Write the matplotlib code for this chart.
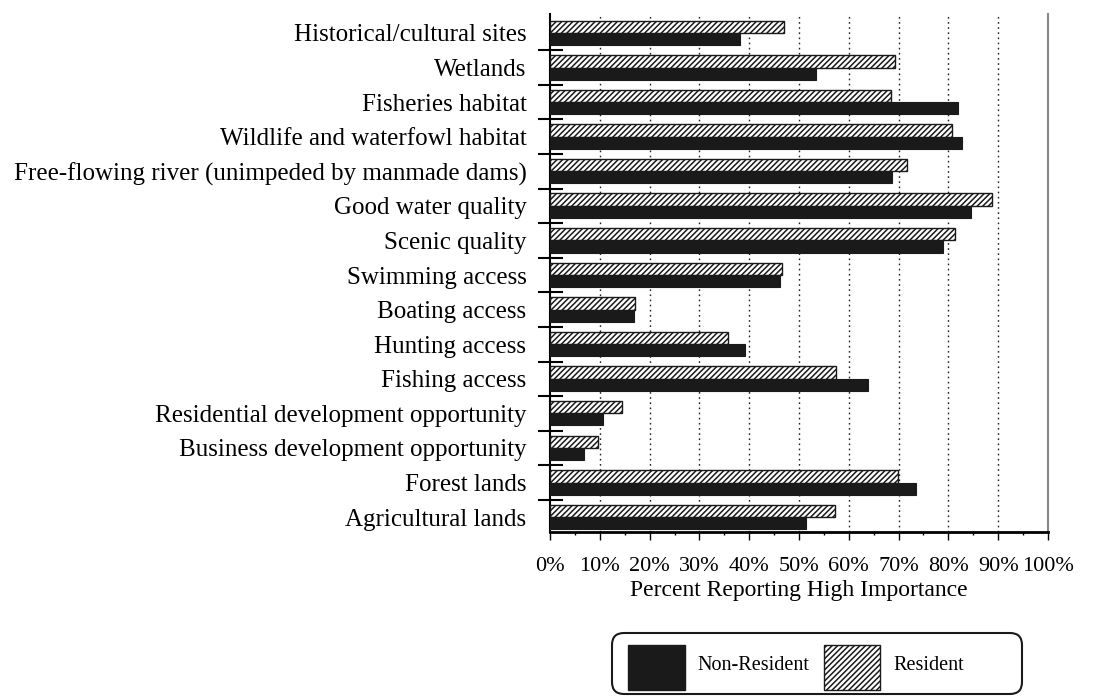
import numpy as np
import matplotlib
matplotlib.use("Agg")
import matplotlib.pyplot as plt
from matplotlib.patches import Rectangle, FancyBboxPatch

plt.rcParams["font.family"] = ["Liberation Serif", "DejaVu Serif"]
plt.rcParams["hatch.linewidth"] = 1.1

# Data (top to bottom as shown in the chart)
categories = [
    "Historical/cultural sites",
    "Wetlands",
    "Fisheries habitat",
    "Wildlife and waterfowl habitat",
    "Free-flowing river (unimpeded by manmade dams)",
    "Good water quality",
    "Scenic quality",
    "Swimming access",
    "Boating access",
    "Hunting access",
    "Fishing access",
    "Residential development opportunity",
    "Business development opportunity",
    "Forest lands",
    "Agricultural lands",
]
resident = [46.9, 69.2, 68.4, 80.8, 71.6, 88.8, 81.4, 46.6, 17.0, 35.7, 57.5, 14.5, 9.7, 69.9, 57.3]
non_resident = [38.1, 53.5, 81.9, 82.8, 68.6, 84.6, 78.9, 46.2, 16.9, 39.1, 63.8, 10.6, 6.8, 73.4, 51.5]
x_ticks = list(range(0, 101, 10))
series_names = ["Non-Resident", "Resident"]

fig = plt.figure(figsize=(11.15, 6.97), dpi=100)
ax = fig.add_axes([0.4933, 0.2367, 0.4466, 0.7433])

n = len(categories)
y = np.arange(n)[::-1]  # first category at the top

# Resident bars above the centre, non-resident below
ax.barh(y, resident, height=0.36, align="edge", color="white",
        edgecolor="#1a1a1a", hatch="//////", linewidth=1.0, zorder=3)
ax.barh(y - 0.35, non_resident, height=0.35, align="edge", color="#1a1a1a",
        edgecolor="#1a1a1a", linewidth=0.8, zorder=3)

# Axes styling
ax.set_xlim(0, 100)
ax.set_ylim(-0.43, n - 1 + 0.55)
ax.set_xticks(x_ticks)
ax.set_xticklabels([f"{t}%" for t in x_ticks], fontsize=16)
ax.set_xticks(np.arange(5, 100, 10), minor=True)
ax.tick_params(axis="x", which="major", length=6, width=1, direction="out", pad=12)
ax.tick_params(axis="x", which="minor", length=2, width=1, direction="out")

ax.set_yticks(y)
ax.set_yticklabels(categories, fontsize=18)
ax.tick_params(axis="y", which="major", length=0, pad=17)
ax.set_yticks(np.arange(n - 1) + 0.5, minor=True)
ax.tick_params(axis="y", which="minor", length=18, width=1.5, direction="inout")

ax.set_xlabel("Percent Reporting High Importance", fontsize=17, labelpad=3)

for gx in range(10, 100, 10):
    ax.axvline(gx, color="#222222", linestyle=(0, (1.2, 2.5)), linewidth=1.0, zorder=1)

ax.spines["top"].set_visible(False)
ax.spines["right"].set_color("#888888")
ax.spines["right"].set_linewidth(1.5)
ax.spines["left"].set_linewidth(1.5)
ax.spines["bottom"].set_linewidth(2.0)

# Legend box drawn in inches from the figure's lower-left corner
tr = fig.dpi_scale_trans
fig.add_artist(FancyBboxPatch((6.12, 0.03), 4.10, 0.61, transform=tr,
                              boxstyle="round,pad=0,rounding_size=0.12",
                              facecolor="white", edgecolor="#1a1a1a", linewidth=1.5))
fig.add_artist(Rectangle((6.28, 0.07), 0.57, 0.45, transform=tr,
                         facecolor="#1a1a1a", edgecolor="#1a1a1a", linewidth=1))
fig.text(6.97, 0.31, series_names[0], transform=tr, fontsize=14.5, va="center")
fig.add_artist(Rectangle((8.24, 0.07), 0.56, 0.45, transform=tr,
                         facecolor="white", edgecolor="#1a1a1a", hatch="//////", linewidth=1))
fig.text(8.93, 0.31, series_names[1], transform=tr, fontsize=14.5, va="center")

fig.savefig("out.png", dpi=100)
